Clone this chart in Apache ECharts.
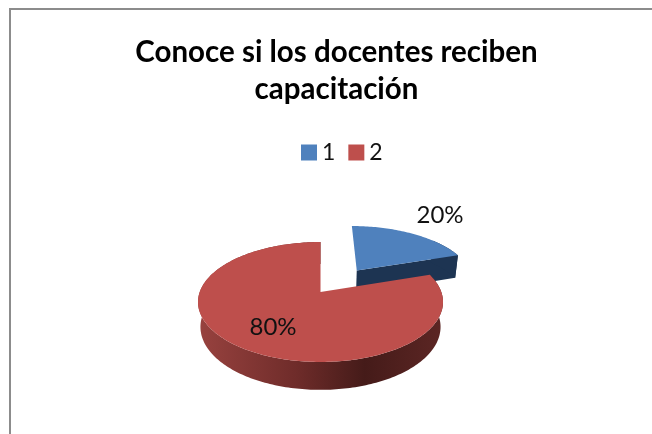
<!DOCTYPE html>
<html>
<head>
<meta charset="utf-8">
<title>Conoce si los docentes reciben capacitación</title>
<script src="https://cdn.jsdelivr.net/npm/echarts@6/dist/echarts.min.js"></script>
<style>
    html, body { margin: 0; padding: 0; background: #fff; }
    #main { width: 652px; height: 434px; }
</style>
</head>
<body>
<div id="main"></div>
<script>
var categories = ['1', '2'];
var values = [20, 80];

var total = values[0] + values[1];

var topColors = ['#4f81bd', '#be4f4c'];
var offsets = [[0.32, -0.395], [0, 0]];

// proyeccion del disco del pastel (perspectiva simple)
var cx = 320.5, cy = 292, rx = 120.8, ry = 58.3, persp = 1 / 6, thick = 24.4, shrink = 0.98;

function project(u, v, down) {
    var w = 1 - persp * v;
    if (down) {
        return [cx + rx * u * shrink / w, cy + (ry * v * shrink + thick) / w];
    }
    return [cx + rx * u / w, cy + ry * v / w];
}

function arcPoints(a0, a1, ou, ov, down) {
    var pts = [];
    var n = Math.ceil(Math.abs(a1 - a0) / 0.02);
    for (var i = 0; i <= n; i++) {
        var a = a0 + (a1 - a0) * i / n;
        pts.push(project(ou + Math.sin(a), ov - Math.cos(a), down));
    }
    return pts;
}

function renderSlice(index) {
    return function (params, api) {
        var before = 0;
        for (var i = 0; i < index; i++) before += values[i];
        var a0 = before / total * Math.PI * 2;
        var a1 = (before + api.value(0)) / total * Math.PI * 2;
        var ou = offsets[index][0];
        var ov = offsets[index][1];
        var apex = project(ou, ov, false);
        var apexDown = project(ou, ov, true);
        var topArc = arcPoints(a0, a1, ou, ov, false);
        var children = [];
        var wallFill;
        var wallStart = a0;

        if (index === 0) {
            // cara del corte, azul oscuro
            var endTop = topArc[topArc.length - 1];
            var endDown = project(ou + Math.sin(a1), ov - Math.cos(a1), true);
            children.push({
                type: 'polygon',
                shape: { points: [apex, endTop, endDown, apexDown] },
                style: { fill: '#1d3452' }
            });
            wallFill = '#1d3452';
            wallStart = a0 + (a1 - a0) * 0.7;
        } else {
            wallFill = new echarts.graphic.LinearGradient(0, 0, 1, 0, [
                { offset: 0, color: '#98423f' },
                { offset: 0.4, color: '#6f2c2a' },
                { offset: 0.68, color: '#451b19' },
                { offset: 1, color: '#5c2624' }
            ]);
        }

        // pared exterior
        children.push({
            type: 'polygon',
            shape: {
                points: arcPoints(wallStart, a1, ou, ov, false)
                    .concat(arcPoints(wallStart, a1, ou, ov, true).reverse())
            },
            style: { fill: wallFill }
        });

        // cara superior
        children.push({
            type: 'polygon',
            shape: { points: [apex].concat(topArc) },
            style: { fill: topColors[index] }
        });

        return { type: 'group', children: children };
    };
}

var labelPos = [[440, 215], [273, 327]];

var series = categories.map(function (name, i) {
    return {
        name: name,
        type: 'custom',
        coordinateSystem: 'none',
        itemStyle: { color: topColors[i] },
        renderItem: renderSlice(i),
        data: [[values[i]]],
        silent: true,
        z: 2 + i
    };
});

var myChart = echarts.init(document.getElementById('main'));

var option = {
    animation: false,
    backgroundColor: '#fff',
    title: {
        text: 'Conoce si los docentes reciben\ncapacitación',
        left: 331.5,
        top: 29,
        textAlign: 'center',
        textStyle: {
            fontFamily: 'Lato',
            fontWeight: 'bold',
            fontSize: 29.5,
            lineHeight: 37,
            color: '#000'
        }
    },
    legend: {
        data: categories,
        left: 296,
        top: 136,
        itemWidth: 16,
        itemHeight: 16,
        itemGap: 13,
        icon: 'rect',
        textStyle: { fontFamily: 'Lato', fontSize: 23, color: '#111' }
    },
    graphic: [
        { type: 'line', shape: { x1: 10, y1: 9, x2: 10, y2: 434 }, style: { stroke: '#8c8c8c', lineWidth: 2 } },
        { type: 'line', shape: { x1: 9, y1: 9, x2: 652, y2: 9 }, style: { stroke: '#8c8c8c', lineWidth: 2 } },
        {
            type: 'text', z: 10, x: labelPos[0][0], y: labelPos[0][1],
            style: { text: Math.round(values[0] / total * 100) + '%', font: '24px Lato', fill: '#111', textAlign: 'center', textVerticalAlign: 'middle' }
        },
        {
            type: 'text', z: 10, x: labelPos[1][0], y: labelPos[1][1],
            style: { text: Math.round(values[1] / total * 100) + '%', font: '24px Lato', fill: '#111', textAlign: 'center', textVerticalAlign: 'middle' }
        }
    ],
    series: series
};

myChart.setOption(option);
</script>
</body>
</html>
